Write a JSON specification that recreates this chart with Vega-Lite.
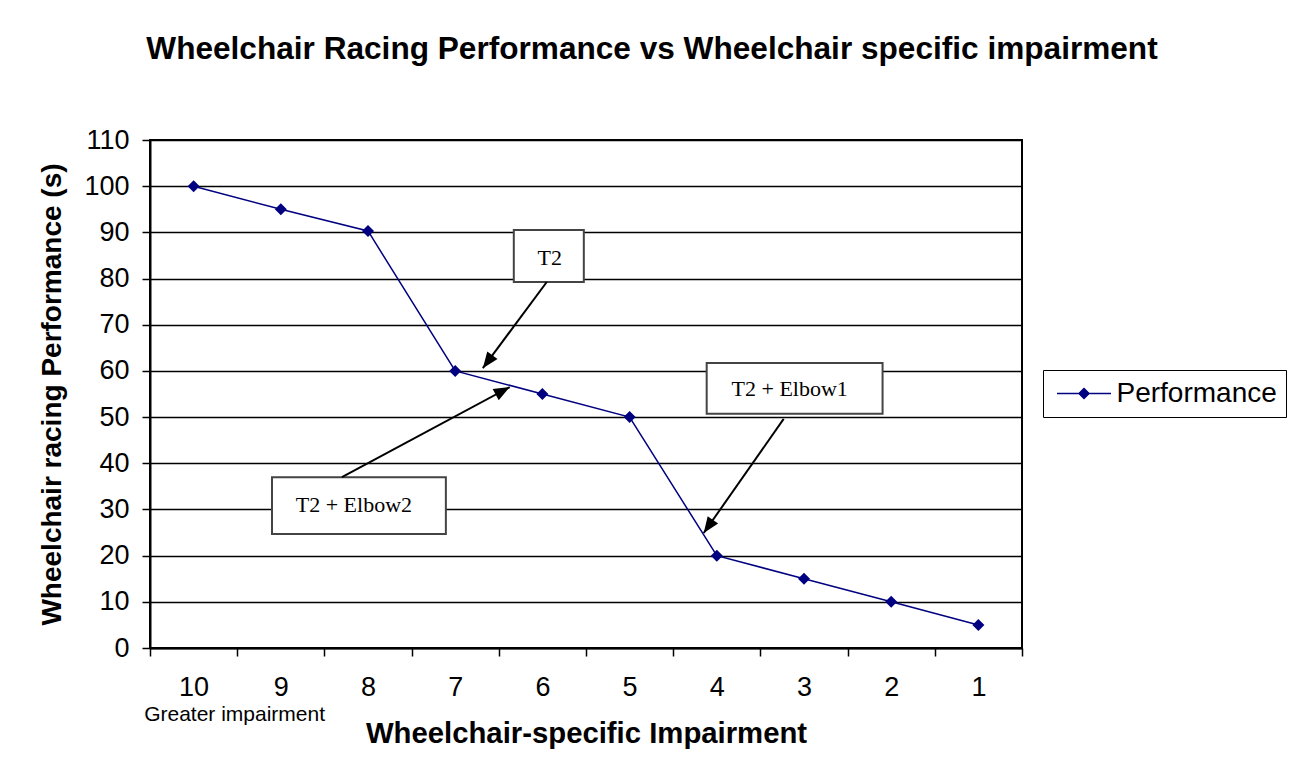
{
  "$schema": "https://vega.github.io/schema/vega-lite/v6.json",
  "width": 872,
  "height": 508,
  "autosize": {"type": "none"},
  "padding": {"left": 150, "top": 140, "right": 269, "bottom": 130},
  "background": "white",
  "title": {
    "text": "Wheelchair Racing Performance vs Wheelchair specific impairment",
    "font": "Liberation Sans",
    "fontSize": 31.6,
    "fontWeight": "bold",
    "color": "#000000",
    "anchor": "middle",
    "frame": "group",
    "dx": 66,
    "offset": 60
  },
  "config": {
    "view": {"stroke": "#000000", "strokeWidth": 2},
    "font": "Liberation Sans"
  },
  "datasets": {
    "perf": [
      {"impairment": 10, "performance": 100},
      {"impairment": 9, "performance": 95},
      {"impairment": 8, "performance": 90.3},
      {"impairment": 7, "performance": 60},
      {"impairment": 6, "performance": 55},
      {"impairment": 5, "performance": 50},
      {"impairment": 4, "performance": 20},
      {"impairment": 3, "performance": 15},
      {"impairment": 2, "performance": 10},
      {"impairment": 1, "performance": 5}
    ],
    "boxes": [
      {"label": "T2", "x": 6.328, "x2": 5.525, "y": 90.5, "y2": 79.25, "tx": 5.915, "ty": 84.45},
      {"label": "T2 + Elbow1", "x": 4.116, "x2": 2.099, "y": 61.7, "y2": 50.7, "tx": 3.164, "ty": 56.1},
      {"label": "T2 + Elbow2", "x": 9.101, "x2": 7.107, "y": 37.0, "y2": 24.7, "tx": 8.162, "ty": 31.0}
    ],
    "arrows": [
      {"label": "T2", "x": 5.95, "y": 79.25, "x2": 6.683, "y2": 60.6},
      {"label": "T2 + Elbow2", "x": 8.299, "y": 37.0, "x2": 6.374, "y2": 56.5},
      {"label": "T2 + Elbow1", "x": 3.233, "y": 49.6, "x2": 4.15, "y2": 24.9}
    ]
  },
  "layer": [
    {
      "data": {"name": "perf"},
      "mark": {"type": "line", "strokeWidth": 1.5},
      "encoding": {
        "x": {
          "field": "impairment",
          "type": "quantitative",
          "title": "Wheelchair-specific Impairment",
          "scale": {"domain": [0.5, 10.5], "reverse": true, "nice": false, "zero": false},
          "axis": {
            "title": "Wheelchair-specific Impairment",
            "values": [10.5, 9.5, 8.5, 7.5, 6.5, 5.5, 4.5, 3.5, 2.5, 1.5, 0.5],
            "labelExpr": "datum.value > 1 ? format(datum.value - 0.5, 'd') : ''",
            "labelOffset": 43.6,
            "labelFlush": false,
            "labelOverlap": false,
            "grid": false,
            "domainColor": "#000000",
            "domainWidth": 2,
            "tickColor": "#000000",
            "tickWidth": 1.5,
            "tickSize": 8,
            "labelFont": "Liberation Sans",
            "labelFontSize": 27,
            "labelColor": "#000000",
            "labelPadding": 18,
            "titleFont": "Liberation Sans",
            "titleFontSize": 29.3,
            "titleFontWeight": "bold",
            "titleColor": "#000000",
            "titlePadding": 19
          }
        },
        "y": {
          "field": "performance",
          "type": "quantitative",
          "title": "Wheelchair racing Performance (s)",
          "scale": {"domain": [0, 110], "nice": false, "zero": true},
          "axis": {
            "title": "Wheelchair racing Performance (s)",
            "values": [0, 10, 20, 30, 40, 50, 60, 70, 80, 90, 100, 110],
            "grid": true,
            "gridColor": "#000000",
            "gridWidth": 1.5,
            "domainColor": "#000000",
            "domainWidth": 2,
            "tickColor": "#000000",
            "tickWidth": 1.5,
            "tickSize": 8,
            "labelFont": "Liberation Sans",
            "labelFontSize": 27,
            "labelColor": "#000000",
            "labelPadding": 13,
            "titleFont": "Liberation Sans",
            "titleFontSize": 28,
            "titleFontWeight": "bold",
            "titleColor": "#000000",
            "titlePadding": 17
          }
        },
        "color": {
          "datum": "Performance",
          "type": "nominal",
          "scale": {"range": ["#000080"]},
          "legend": {
            "title": null,
            "orient": "none",
            "legendX": 893,
            "legendY": 230,
            "strokeColor": "#000000",
            "fillColor": "#ffffff",
            "padding": 9,
            "symbolType": "M-2,0L2,0M0,-0.37L0.37,0L0,0.37L-0.37,0Z",
            "symbolSize": 729,
            "symbolOffset": 17.5,
            "symbolStrokeWidth": 1.5,
            "labelFont": "Liberation Sans",
            "labelFontSize": 28,
            "labelColor": "#000000",
            "labelOffset": 18,
            "labelLimit": 400,
            "encode": {
              "symbols": {
                "update": {
                  "fill": {"value": "#000080"},
                  "stroke": {"value": "#000080"},
                  "strokeWidth": {"value": 1.5},
                  "opacity": {"value": 1}
                }
              }
            }
          }
        }
      }
    },
    {
      "data": {"name": "perf"},
      "mark": {"type": "point", "shape": "diamond", "filled": true, "size": 144, "color": "#000080", "opacity": 1},
      "encoding": {
        "x": {"field": "impairment", "type": "quantitative", "title": "Wheelchair-specific Impairment"},
        "y": {"field": "performance", "type": "quantitative", "title": "Wheelchair racing Performance (s)"}
      }
    },
    {
      "data": {"name": "boxes"},
      "mark": {"type": "rect", "fill": "#ffffff", "stroke": "#444444", "strokeWidth": 2},
      "encoding": {
        "x": {"field": "x", "type": "quantitative", "title": "Wheelchair-specific Impairment"},
        "x2": {"field": "x2"},
        "y": {"field": "y", "type": "quantitative", "title": "Wheelchair racing Performance (s)"},
        "y2": {"field": "y2"}
      }
    },
    {
      "data": {"name": "boxes"},
      "mark": {"type": "text", "font": "Liberation Serif", "fontSize": 22, "color": "#000000", "align": "center", "baseline": "middle"},
      "encoding": {
        "x": {"field": "tx", "type": "quantitative", "title": "Wheelchair-specific Impairment"},
        "y": {"field": "ty", "type": "quantitative", "title": "Wheelchair racing Performance (s)"},
        "text": {"field": "label"}
      }
    },
    {
      "data": {"name": "arrows"},
      "mark": {"type": "rule", "color": "#000000", "strokeWidth": 2},
      "encoding": {
        "x": {"field": "x", "type": "quantitative", "title": "Wheelchair-specific Impairment"},
        "y": {"field": "y", "type": "quantitative", "title": "Wheelchair racing Performance (s)"},
        "x2": {"field": "x2"},
        "y2": {"field": "y2"}
      }
    },
    {
      "data": {"name": "arrows"},
      "transform": [
        {"calculate": "(atan2(-(datum.x2 - datum.x) * 87.25, (datum.y2 - datum.y) * 4.618) * 180 / PI + 360) % 360", "as": "ang"}
      ],
      "mark": {"type": "point", "shape": "M0,0L-0.4,1L0.4,1Z", "filled": true, "size": 1024, "color": "#000000", "opacity": 1},
      "encoding": {
        "x": {"field": "x2", "type": "quantitative", "title": "Wheelchair-specific Impairment"},
        "y": {"field": "y2", "type": "quantitative", "title": "Wheelchair racing Performance (s)"},
        "angle": {"field": "ang", "type": "quantitative", "scale": null}
      }
    },
    {
      "data": {"values": [{"note": "Greater impairment"}]},
      "mark": {"type": "text", "font": "Liberation Sans", "fontSize": 21, "color": "#000000", "align": "center", "baseline": "alphabetic", "dx": 41, "dy": 73},
      "encoding": {
        "x": {"datum": 10, "type": "quantitative", "title": "Wheelchair-specific Impairment"},
        "y": {"datum": 0, "type": "quantitative", "title": "Wheelchair racing Performance (s)"},
        "text": {"field": "note"}
      }
    }
  ]
}
